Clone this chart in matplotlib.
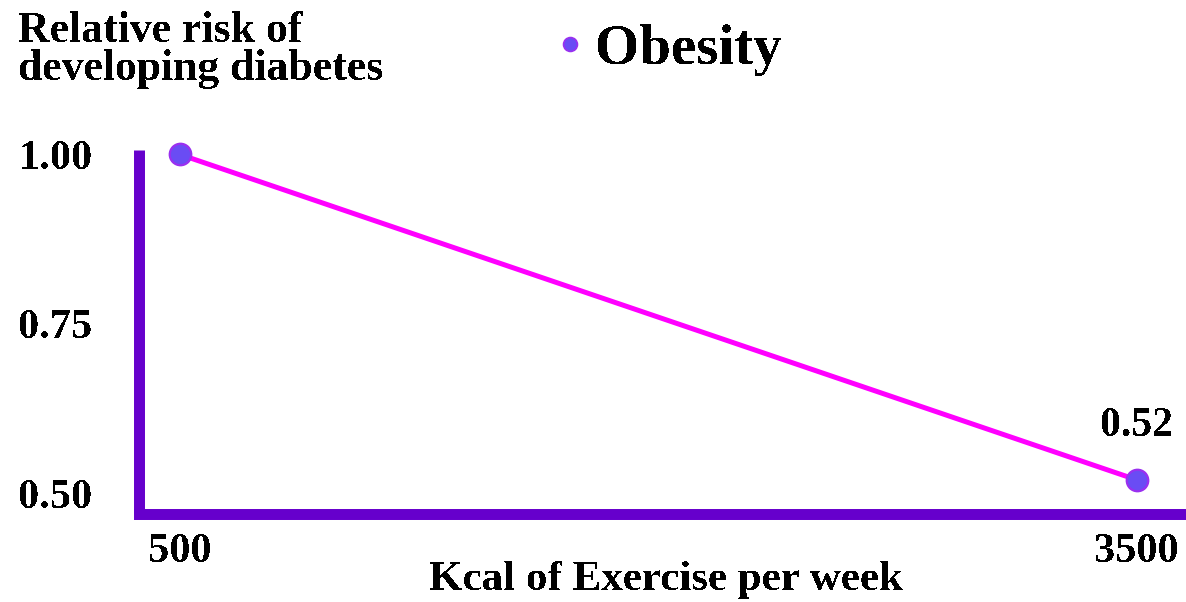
import matplotlib
matplotlib.use("Agg")
import matplotlib.pyplot as plt
from matplotlib.lines import Line2D

# Data
kcal_per_week = [500, 3500]
relative_risk = [1.00, 0.52]
x_ticks = [500, 3500]
y_ticks = [0.50, 0.75, 1.00]
y_tick_labels = ["0.50", "0.75", "1.00"]
series_name = "Obesity"
y_title_lines = ["Relative risk of", "developing diabetes"]
x_title = "Kcal of Exercise per week"

plt.rcParams["font.family"] = ["Liberation Serif", "DejaVu Serif"]
plt.rcParams["font.weight"] = "bold"
plt.rcParams["text.antialiased"] = False

W, H, DPI = 1186, 602, 100
fig = plt.figure(figsize=(W / DPI, H / DPI), dpi=DPI)
fig.patch.set_facecolor("white")

# axes placed in pixel terms
left_px, right_px, top_px, bottom_px = 138.5, 1186, 150, 513.5
ax = fig.add_axes([left_px / W, 1 - bottom_px / H,
                   (right_px - left_px) / W, (bottom_px - top_px) / H])

axis_color = "#6600cc"
line_color = "#ff00ff"
dot_face = "#6a4cf4"
dot_edge = "#9a2ff0"

ax.plot(kcal_per_week, relative_risk, color=line_color, lw=3.6, zorder=3,
        marker="o", markersize=15.5, markerfacecolor=dot_face,
        markeredgecolor=dot_edge, markeredgewidth=1.6, clip_on=False)

# value label for the last point
ax.annotate(f"{relative_risk[-1]:.2f}", (kcal_per_week[-1], relative_risk[-1]),
            xytext=(0, 39), textcoords="offset points", ha="center", va="center",
            fontsize=30, fontweight="bold", color="black")

ax.set_xlim(370, 3653.6)
ax.set_ylim(0.4705, 1.0066)

for side in ("top", "right"):
    ax.spines[side].set_visible(False)
for side in ("left", "bottom"):
    ax.spines[side].set_color(axis_color)
    ax.spines[side].set_linewidth(7.9)
ax.spines["left"].set_capstyle("butt")
ax.spines["bottom"].set_capstyle("projecting")

ax.set_xticks(x_ticks)
ax.set_xticklabels([str(v) for v in x_ticks])
ax.set_yticks(y_ticks)
ax.set_yticklabels(y_tick_labels)
ax.tick_params(axis="both", length=0, labelsize=30.5, colors="black")
ax.tick_params(axis="y", pad=33)
ax.tick_params(axis="x", pad=14)
ax.patch.set_visible(False)

fig.text(666 / W, 1 - 590 / H, x_title, ha="center", va="baseline",
         fontsize=31, fontweight="bold")
for text, base_px in zip(y_title_lines, [42, 80]):
    fig.text(18 / W, 1 - base_px / H, text, ha="left", va="baseline",
             fontsize=31.5, fontweight="bold")

handle = Line2D([], [], linestyle="none", marker="o", markersize=10,
                markerfacecolor=dot_face, markeredgecolor=dot_edge,
                markeredgewidth=1.2)
fig.legend([handle], [series_name], loc="center left",
           bbox_to_anchor=(561 / W, 1 - 50 / H), frameon=False,
           borderpad=0, borderaxespad=0, handlelength=0.3, handletextpad=0.3,
           prop={"family": "Liberation Serif", "weight": "bold", "size": 41})

fig.savefig("out.png", dpi=DPI, facecolor="white")
